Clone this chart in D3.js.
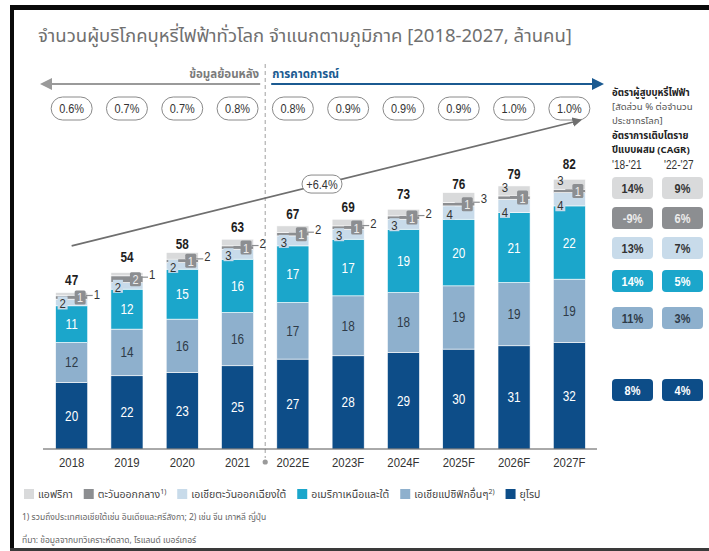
<!DOCTYPE html>
<html>
<head>
<meta charset="utf-8">
<script src="https://cdn.jsdelivr.net/npm/d3@7/dist/d3.min.js"></script>
<style>
  body { margin: 0; background: #fff; }
  svg { display: block; }
  .thai { font-family: "Noto Sans Thai", "Tahoma", "Leelawadee UI", "DejaVu Sans", sans-serif; }
  .num { font-family: "Liberation Sans Narrow", "Arial Narrow", "Liberation Sans", Arial, sans-serif; }
</style>
</head>
<body>
<svg id="chart" width="709" height="551"></svg>
<script>
// ---- data ----
var years = ["2018", "2019", "2020", "2021", "2022E", "2023F", "2024F", "2025F", "2026F", "2027F"];
var europe = [20, 22, 23, 25, 27, 28, 29, 30, 31, 32];
var asiaPacific = [12, 14, 16, 16, 17, 18, 18, 19, 19, 19];
var americas = [11, 12, 15, 16, 17, 17, 19, 20, 21, 22];
var southeastAsia = [2, 2, 2, 3, 3, 3, 3, 4, 4, 4];
var middleEast = [1, 2, 1, 1, 1, 1, 1, 1, 1, 1];
var africa = [1, 1, 2, 2, 2, 2, 2, 3, 3, 3];
var totals = [47, 54, 58, 63, 67, 69, 73, 76, 79, 82];
var prevalence = ["0.6%", "0.7%", "0.7%", "0.8%", "0.8%", "0.9%", "0.9%", "0.9%", "1.0%", "1.0%"];
var totalCagr = "+6.4%";

// right panel rows, top to bottom: africa, middle east, sea, americas, apac, europe
var cagr1821 = ["14%", "-9%", "13%", "14%", "11%", "8%"];
var cagr2227 = ["9%", "6%", "7%", "5%", "3%", "4%"];

var regionKeys = ["europe", "asiaPacific", "americas", "southeastAsia", "middleEast", "africa"];
var regionNames = {
  africa: "แอฟริกา",
  middleEast: "ตะวันออกกลาง",
  southeastAsia: "เอเชียตะวันออกเฉียงใต้",
  americas: "อเมริกาเหนือและใต้",
  asiaPacific: "เอเชียแปซิฟิกอื่นๆ",
  europe: "ยุโรป"
};
var regionNotes = { middleEast: "1)", asiaPacific: "2)" };
var colors = {
  europe: "#0d4d88",
  asiaPacific: "#8eb0cd",
  americas: "#1ba6cb",
  southeastAsia: "#c8dbea",
  middleEast: "#8c8e91",
  africa: "#d9dadb"
};
var textColors = {
  europe: "#ffffff",
  asiaPacific: "#2e3b48",
  americas: "#ffffff",
  southeastAsia: "#333333",
  middleEast: "#ececec",
  africa: "#333333"
};

var rows = years.map(function (y, i) {
  return {
    year: y, europe: europe[i], asiaPacific: asiaPacific[i], americas: americas[i],
    southeastAsia: southeastAsia[i], middleEast: middleEast[i], africa: africa[i], total: totals[i]
  };
});

var svg = d3.select("#chart");

// frame
svg.append("rect").attr("x", 0).attr("y", 0).attr("width", 709).attr("height", 551).attr("fill", "#fff");
svg.append("rect").attr("x", 10).attr("y", 5).attr("width", 699).attr("height", 5).attr("fill", "#0a0a0a");
svg.append("rect").attr("x", 10).attr("y", 5).attr("width", 4).attr("height", 546).attr("fill", "#0a0a0a");
svg.append("rect").attr("x", 10).attr("y", 548).attr("width", 699).attr("height", 3).attr("fill", "#3a3a3a");

// title
svg.append("text")
    .attr("class", "thai")
    .attr("x", 38).attr("y", 42)
    .attr("font-size", 18.5)
    .attr("fill", "#707070")
    .text("จำนวนผู้บริโภคบุหรี่ไฟฟ้าทั่วโลก จำแนกตามภูมิภาค [2018-2027, ล้านคน]");

// scales
var baseline = 449;
var x = d3.scaleBand().domain(years).range([44, 597]).paddingInner(0.42).paddingOuter(0.21);
var y = d3.scaleLinear().domain([0, 90]).range([baseline, baseline - 90 * 3.33]);
var bw = x.bandwidth();
var cx = function (yr) { return x(yr) + bw / 2; };

var splitX = (x(years[3]) + bw + x(years[4])) / 2;

// header: history / forecast arrows
var defs = svg.append("defs");
function arrowMarker(id, color) {
  defs.append("marker")
      .attr("id", id)
      .attr("viewBox", "0 0 10 10")
      .attr("refX", 5).attr("refY", 5)
      .attr("markerWidth", 6).attr("markerHeight", 6)
      .attr("orient", "auto-start-reverse")
      .append("path").attr("d", "M0,0 L10,5 L0,10 z").attr("fill", color);
}
arrowMarker("arrGray", "#9a9a9a");
arrowMarker("arrBlue", "#1b5a91");
arrowMarker("arrTrend", "#6f6f6f");

svg.append("line")
    .attr("x1", splitX - 5).attr("y1", 84).attr("x2", 46).attr("y2", 84)
    .attr("stroke", "#9a9a9a").attr("stroke-width", 2)
    .attr("marker-end", "url(#arrGray)");
svg.append("line")
    .attr("x1", splitX + 6).attr("y1", 84).attr("x2", 598).attr("y2", 84)
    .attr("stroke", "#1b5a91").attr("stroke-width", 2)
    .attr("marker-end", "url(#arrBlue)");

svg.append("text")
    .attr("class", "thai")
    .attr("x", splitX - 6).attr("y", 78)
    .attr("text-anchor", "end")
    .attr("font-size", 11.5).attr("font-weight", "bold")
    .attr("fill", "#7b7b7b")
    .text("ข้อมูลย้อนหลัง");
svg.append("text")
    .attr("class", "thai")
    .attr("x", splitX + 7).attr("y", 78)
    .attr("font-size", 11.5).attr("font-weight", "bold")
    .attr("fill", "#1b5a91")
    .text("การคาดการณ์");

// divider
svg.append("line")
    .attr("x1", splitX).attr("x2", splitX)
    .attr("y1", 64).attr("y2", 458)
    .attr("stroke", "#a0a0a0").attr("stroke-width", 1)
    .attr("stroke-dasharray", "4,3");
svg.append("circle").attr("cx", splitX).attr("cy", 462).attr("r", 2.6).attr("fill", "#9a9a9a");

// prevalence pills
var pill = svg.selectAll("g.pill").data(years).enter().append("g").attr("class", "pill");
pill.append("rect")
    .attr("x", function (d) { return cx(d) - 20.5; })
    .attr("y", 97).attr("width", 41).attr("height", 23).attr("rx", 11.5)
    .attr("fill", "#fff").attr("stroke", "#8a8a8a").attr("stroke-width", 1);
pill.append("text")
    .attr("class", "num")
    .attr("x", function (d) { return cx(d); })
    .attr("y", 113)
    .attr("text-anchor", "middle")
    .attr("font-size", 13).attr("fill", "#333")
    .text(function (d, i) { return prevalence[i]; });

// trend arrow
var trendStart = { year: years[0], value: 61 };
var trendEnd = { year: years[9], value: 98.5 };
var tx1 = cx(trendStart.year), ty1 = y(trendStart.value);
var tx2 = cx(trendEnd.year) + 8, ty2 = y(trendEnd.value);
svg.append("line")
    .attr("x1", tx1).attr("y1", ty1).attr("x2", tx2).attr("y2", ty2)
    .attr("stroke", "#6f6f6f").attr("stroke-width", 1.6)
    .attr("marker-end", "url(#arrTrend)");
var lx = 322, ly = ty1 + (ty2 - ty1) * (lx - tx1) / (tx2 - tx1);
svg.append("rect")
    .attr("x", lx - 20).attr("y", ly - 9).attr("width", 40).attr("height", 18).attr("rx", 9)
    .attr("fill", "#fff").attr("stroke", "#8a8a8a");
svg.append("text")
    .attr("class", "num")
    .attr("x", lx).attr("y", ly + 4.5)
    .attr("text-anchor", "middle").attr("font-size", 13).attr("fill", "#333")
    .text(totalCagr);

// stacked bars
var series = d3.stack().keys(regionKeys)(rows);
var layer = svg.selectAll("g.layer").data(series).enter().append("g")
    .attr("class", "layer")
    .attr("fill", function (d) { return colors[d.key]; });
layer.selectAll("rect").data(function (d) { return d; }).enter().append("rect")
    .attr("x", function (d) { return x(d.data.year); })
    .attr("y", function (d) { return y(d[1]); })
    .attr("width", bw)
    .attr("height", function (d) { return y(d[0]) - y(d[1]); })
    .attr("stroke", "#fff").attr("stroke-width", 0.6);

// labels of the three big segments
series.slice(0, 3).forEach(function (s) {
  svg.selectAll(null).data(s).enter().append("text")
      .attr("class", "num")
      .attr("x", function (d) { return cx(d.data.year); })
      .attr("y", function (d) { return (y(d[0]) + y(d[1])) / 2 + 5; })
      .attr("text-anchor", "middle")
      .attr("font-size", 14)
      .attr("fill", textColors[s.key])
      .text(function (d) { return d.data[s.key]; });
});

// small segments: sea inside, middle east badge, africa outside (inside for last bars)
var seaS = series[3], meS = series[4], afS = series[5];
rows.forEach(function (r, i) {
  var x0 = x(r.year), x1 = x0 + bw;
  var seaY = (y(seaS[i][0]) + y(seaS[i][1])) / 2 + 1;
  var meY = (y(meS[i][0]) + y(meS[i][1])) / 2 + 1;
  var afY = (y(afS[i][0]) + y(afS[i][1])) / 2;
  var inside = i >= 8;
  if (inside) { seaY += 5; afY -= 3; }
  var g = svg.append("g");

  g.append("rect").attr("x", x0 + 2).attr("y", seaY - 7).attr("width", 10).attr("height", 13)
      .attr("fill", colors.southeastAsia);
  g.append("text").attr("class", "num")
      .attr("x", x0 + 7).attr("y", seaY + 5)
      .attr("text-anchor", "middle").attr("font-size", 13.5).attr("fill", "#333")
      .text(r.southeastAsia);

  g.append("line").attr("x1", x0 + 12).attr("x2", cx(r.year) + 3)
      .attr("y1", meY - 2).attr("y2", meY - 2)
      .attr("stroke", "#8c8e91").attr("stroke-width", 1.2);
  g.append("rect").attr("x", cx(r.year) + 3).attr("y", meY - 8).attr("width", 11).attr("height", 14).attr("rx", 1.5)
      .attr("fill", colors.middleEast);
  g.append("text").attr("class", "num")
      .attr("x", cx(r.year) + 8.5).attr("y", meY + 4)
      .attr("text-anchor", "middle").attr("font-size", 13).attr("fill", textColors.middleEast)
      .text(r.middleEast);

  if (inside) {
    g.append("text").attr("class", "num")
        .attr("x", x0 + 7).attr("y", afY + 4)
        .attr("text-anchor", "middle").attr("font-size", 13.5).attr("fill", "#333")
        .text(r.africa);
  } else {
    g.append("line").attr("x1", cx(r.year) + 14).attr("x2", x1 + 5)
        .attr("y1", meY - 3).attr("y2", meY - 3)
        .attr("stroke", "#8c8e91").attr("stroke-width", 1.2);
    g.append("text").attr("class", "num")
        .attr("x", x1 + 6).attr("y", afY + 5)
        .attr("font-size", 13.5).attr("fill", "#333")
        .text(r.africa);
  }
});

// totals
svg.selectAll("text.total").data(rows).enter().append("text")
    .attr("class", "num total")
    .attr("x", function (d) { return cx(d.year); })
    .attr("y", function (d) { return y(d.total) - 7; })
    .attr("text-anchor", "middle")
    .attr("font-size", 14).attr("font-weight", "bold").attr("fill", "#1e1e1e")
    .text(function (d) { return d.total; });

// x axis
svg.append("line").attr("x1", 43).attr("x2", 597).attr("y1", baseline).attr("y2", baseline)
    .attr("stroke", "#555").attr("stroke-width", 1);
svg.selectAll("text.year").data(years).enter().append("text")
    .attr("class", "num year")
    .attr("x", function (d) { return cx(d); })
    .attr("y", 467)
    .attr("text-anchor", "middle")
    .attr("font-size", 13.5).attr("fill", "#333")
    .text(function (d) { return d; });

// right panel
var px = 612;
var headLines = [
  { t: "อัตราผู้สูบบุหรี่ไฟฟ้า", y: 96, b: true },
  { t: "[สัดส่วน % ต่อจำนวน", y: 110, b: false },
  { t: "ประชากรโลก]", y: 124, b: false },
  { t: "อัตราการเติบโตราย", y: 139, b: true },
  { t: "ปีแบบผสม (CAGR)", y: 153, b: true }
];
headLines.forEach(function (h) {
  svg.append("text").attr("class", "thai")
      .attr("x", px).attr("y", h.y)
      .attr("font-size", 9.6).attr("font-weight", h.b ? "bold" : "normal")
      .attr("fill", h.b ? "#222" : "#555")
      .text(h.t);
});
svg.append("text").attr("class", "num").attr("x", px).attr("y", 169)
    .attr("font-size", 12).attr("fill", "#333").text("'18-'21");
svg.append("text").attr("class", "num").attr("x", px + 52).attr("y", 169)
    .attr("font-size", 12).attr("fill", "#333").text("'22-'27");

var panelKeys = ["africa", "middleEast", "southeastAsia", "americas", "asiaPacific", "europe"];
var panelY = [188, 218, 248, 281, 318, 390];
panelKeys.forEach(function (k, i) {
  [cagr1821[i], cagr2227[i]].forEach(function (v, j) {
    var bx = px + j * 50;
    svg.append("rect")
        .attr("x", bx).attr("y", panelY[i] - 11).attr("width", 41).attr("height", 22).attr("rx", 4)
        .attr("fill", colors[k]);
    svg.append("text").attr("class", "num")
        .attr("x", bx + 20.5).attr("y", panelY[i] + 5)
        .attr("text-anchor", "middle")
        .attr("font-size", 13).attr("font-weight", "bold")
        .attr("fill", textColors[k])
        .text(v);
  });
});

// narrow look for the number font
svg.selectAll("text.num").each(function () {
  var len = this.getComputedTextLength();
  d3.select(this).attr("textLength", len * 0.84).attr("lengthAdjust", "spacingAndGlyphs");
});

// legend
var legendOrder = ["africa", "middleEast", "southeastAsia", "americas", "asiaPacific", "europe"];
var lgx = 24;
legendOrder.forEach(function (k) {
  var g = svg.append("g").attr("transform", "translate(" + lgx + ",0)");
  g.append("rect").attr("x", 0).attr("y", 489).attr("width", 10).attr("height", 10).attr("fill", colors[k]);
  var t = g.append("text").attr("class", "thai")
      .attr("x", 14).attr("y", 498)
      .attr("font-size", 10.5).attr("fill", "#444")
      .text(regionNames[k]);
  if (regionNotes[k]) {
    t.append("tspan").attr("font-size", 7).attr("dy", -4).text(regionNotes[k]);
  }
  lgx += 14 + t.node().getComputedTextLength() + 11;
});

svg.append("text").attr("class", "thai")
    .attr("x", 22).attr("y", 520)
    .attr("font-size", 8.5).attr("fill", "#666")
    .text("1) รวมถึงประเทศเอเชียใต้เช่น อินเดียและศรีลังกา; 2) เช่น จีน เกาหลี ญี่ปุ่น");
svg.append("text").attr("class", "thai")
    .attr("x", 22).attr("y", 543)
    .attr("font-size", 8.5).attr("fill", "#666")
    .text("ที่มา: ข้อมูลจากบทวิเคราะห์ตลาด, โรแลนด์ เบอร์เกอร์");
</script>
</body>
</html>
